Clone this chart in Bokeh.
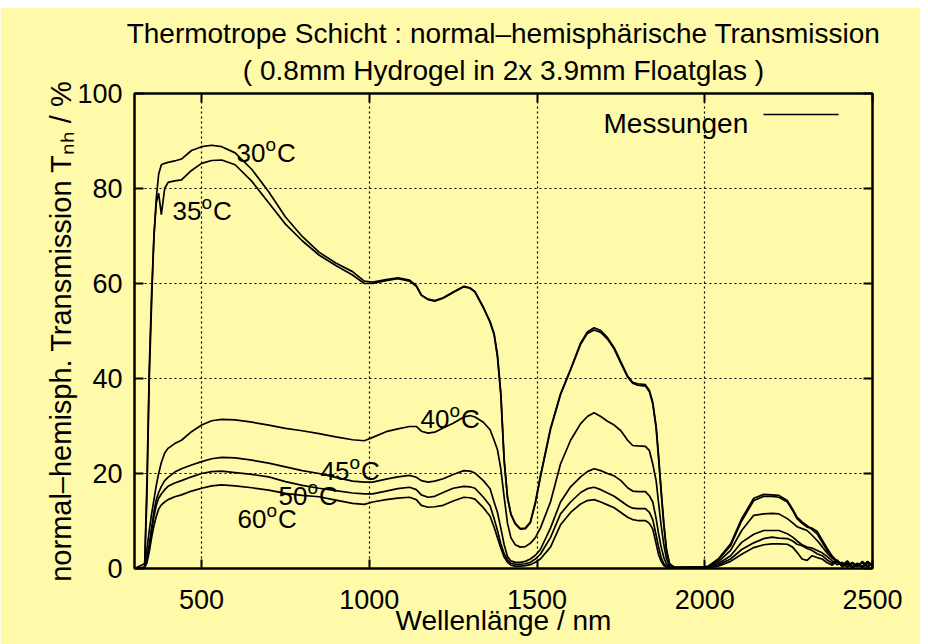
from bokeh.plotting import figure
from bokeh.models import Range1d, Label, LinearAxis, FixedTicker, CustomJSTickFormatter, Title
from bokeh.embed import file_html
from bokeh.resources import INLINE

# ---------------- data ----------------
wavelength = [
    300, 330, 337, 344, 351, 358, 365, 372, 380, 390,
    400, 420, 440, 470, 500, 530, 560, 600, 650, 700,
    750, 800, 850, 900, 950, 985, 1010, 1050, 1085, 1120,
    1140, 1155, 1175, 1195, 1220, 1250, 1282, 1300, 1315, 1340,
    1360, 1372, 1382, 1392, 1402, 1412, 1422, 1435, 1450, 1465,
    1480, 1495, 1510, 1540, 1570, 1600, 1630, 1650, 1670, 1690,
    1710, 1730, 1750, 1770, 1785, 1800, 1823, 1835, 1845, 1855,
    1862, 1870, 1878, 1886, 1895, 1910, 1950, 1990, 2010, 2040,
    2077, 2110, 2146, 2176, 2200, 2221, 2246, 2262, 2275, 2290,
    2305, 2320, 2335, 2350, 2365, 2380, 2395, 2410, 2425, 2440,
    2455, 2470, 2485, 2500]

t30 = [
    0, 0, 18, 42, 58, 70, 78, 83, 85, 85.3,
    85.5, 85.8, 86.2, 88.0, 88.8, 89.1, 88.8, 87.5, 84.0, 79.3,
    74.0, 69.9, 66.6, 64.3, 62.5, 60.5, 60.3, 60.8, 61.2, 60.7,
    59.6, 57.6, 56.7, 56.4, 57.0, 58.2, 59.4, 59.1, 58.3, 55.0,
    52.0, 49.5, 45.0, 37.0, 23.0, 15.0, 11.5, 9.5, 8.4, 8.5,
    9.8, 14.0, 19.5, 29.5, 36.8, 42.0, 47.5, 49.8, 50.7, 50.1,
    48.6, 46.5, 43.5, 40.5, 39.2, 38.9, 38.7, 37.5, 35.0, 30.0,
    24.0, 16.5, 9.5, 4.0, 1.0, 0.2, 0.3, 0.3, 0.5, 2.0,
    5.2, 10.5, 14.8, 15.6, 15.5, 15.4, 14.3, 12.5, 10.8, 9.8,
    9.0, 8.2, 7.3, 5.5, 3.8, 2.3, 1.3, 0.6, 1.2, 0.3,
    1.0, 0.4, 1.5, 0.6]

t35 = [
    0, 0, 15, 40, 56, 70, 77, 79, 74.5, 80,
    81.3, 81.6, 81.8, 83.8, 85.3, 85.9, 86.0, 85.0, 81.5, 77.0,
    72.5, 69.0, 66.0, 63.8, 61.8, 60.0, 60.0, 60.6, 61.0, 60.5,
    59.4, 57.5, 56.6, 56.3, 56.9, 58.1, 59.3, 59.0, 58.2, 54.9,
    51.8, 49.2, 44.5, 36.5, 22.5, 14.8, 11.4, 9.4, 8.3, 8.4,
    9.6, 13.7, 19.2, 29.2, 36.6, 41.8, 47.2, 49.5, 50.2, 49.7,
    48.3, 46.2, 43.2, 40.3, 39.0, 38.6, 38.4, 37.2, 34.6, 29.5,
    23.5, 16.0, 9.0, 3.6, 0.9, 0.2, 0.2, 0.3, 0.4, 1.8,
    4.8, 10.0, 14.3, 15.2, 15.2, 15.0, 14.0, 12.2, 10.5, 9.5,
    8.7, 8.5, 7.8, 6.0, 4.2, 2.6, 1.5, 1.0, 0.4, 1.3,
    0.5, 1.2, 0.3, 0.9]

t40 = [
    0, 1.0, 4.0, 8.0, 11.5, 14.5, 17.5, 20.0, 22.3, 24.3,
    25.3, 26.3, 27.0, 28.8, 30.2, 31.1, 31.4, 31.3, 30.8, 30.2,
    29.5, 29.0, 28.4, 27.7, 27.1, 26.9, 27.6, 28.8, 29.4, 29.9,
    29.9, 28.9, 28.5, 28.7, 29.6, 30.6, 31.9, 32.2, 31.9, 30.8,
    29.2, 27.0, 25.0, 21.0, 15.0, 9.5, 6.5, 5.0, 4.5, 4.6,
    5.3, 6.5, 8.5, 14.0, 22.0, 27.0, 30.5, 32.0, 32.8, 32.0,
    31.0, 30.2, 29.0, 27.0, 25.9, 25.8, 25.7, 24.8, 22.0, 18.5,
    14.0, 9.0, 5.0, 2.0, 0.5, 0.2, 0.2, 0.3, 0.4, 1.4,
    3.8, 8.0, 11.2, 11.5, 11.6, 11.5, 10.5, 9.6, 8.8, 8.4,
    8.0, 7.0, 5.9, 4.6, 3.2, 2.2, 1.4, 0.7, 1.6, 0.4,
    1.1, 0.3, 1.4, 0.8]

t45 = [
    0, 0.3, 2.0, 5.0, 8.5, 12.0, 14.5, 16.0, 17.3, 18.5,
    19.2, 20.3, 21.0, 21.8, 22.5, 23.1, 23.4, 23.3, 22.8, 22.2,
    21.4, 20.6, 20.0, 19.2, 18.4, 18.2, 18.2, 18.8, 19.3, 19.6,
    19.2, 18.5, 18.2, 18.4, 18.9, 19.8, 20.6, 20.5, 20.1, 18.5,
    16.8, 14.0, 11.8, 8.5, 5.0, 2.5, 1.6, 1.3, 1.3, 1.5,
    2.0, 2.8, 4.0, 8.5, 14.0, 17.2, 19.3, 20.4, 21.0, 20.6,
    20.0, 19.5, 18.5, 17.0, 16.3, 16.2, 16.2, 15.3, 14.0, 10.5,
    7.5, 4.5, 2.3, 0.9, 0.3, 0.2, 0.2, 0.3, 0.3, 1.0,
    2.7, 5.5, 7.2, 8.0, 8.0, 8.0, 7.3, 6.6, 5.8, 5.0,
    4.5, 4.3, 3.8, 3.3, 2.5, 1.6, 0.8, 1.3, 0.3, 1.1,
    0.4, 1.5, 0.5, 1.0]

t50 = [
    0, 0.2, 1.8, 4.5, 8.0, 11.0, 13.3, 14.8, 15.7, 16.6,
    17.3, 18.0, 18.5, 19.3, 20.0, 20.4, 20.5, 20.2, 19.8, 19.3,
    18.3, 17.5, 16.9, 16.4, 15.9, 15.7, 15.7, 16.3, 16.8, 17.1,
    16.6, 15.5, 15.0, 15.2, 16.0, 16.9, 17.3, 17.2, 16.9, 15.0,
    13.2, 10.5, 8.0, 5.2, 3.1, 1.8, 1.1, 0.9, 0.9, 1.0,
    1.3, 2.0, 3.0, 6.5, 11.5, 14.0, 16.0, 16.8, 17.1, 16.6,
    15.9, 15.2, 14.2, 13.2, 12.7, 12.6, 12.6, 11.8, 10.3, 7.0,
    4.6, 2.3, 1.0, 0.4, 0.2, 0.2, 0.2, 0.3, 0.3, 0.8,
    2.0, 4.0, 5.4, 6.3, 6.6, 6.4, 6.3, 5.8, 5.1, 4.8,
    4.2, 3.8, 3.1, 2.7, 1.8, 1.1, 1.8, 0.4, 1.2, 0.3,
    0.9, 0.3, 1.3, 0.6]

t60 = [
    0, 0.1, 1.2, 3.5, 6.5, 9.0, 11.0, 12.5, 13.4, 14.0,
    14.5, 15.1, 15.5, 16.3, 16.9, 17.4, 17.6, 17.4, 17.0, 16.5,
    15.8, 15.4, 15.1, 14.4, 13.7, 13.5, 14.0, 14.5, 14.8, 15.0,
    14.5, 13.3, 12.9, 13.0, 13.3, 14.2, 15.0, 14.9, 14.6, 12.8,
    11.0, 8.7, 6.5, 4.3, 2.4, 1.3, 0.7, 0.5, 0.5, 0.6,
    0.8, 1.3, 2.0, 4.5, 9.2, 11.8, 13.6, 14.3, 14.5, 14.0,
    13.4, 12.8, 11.8, 10.8, 10.3, 10.1, 10.1, 9.5, 8.3, 5.2,
    3.0, 1.5, 0.6, 0.3, 0.2, 0.2, 0.2, 0.2, 0.2, 0.5,
    1.5, 3.0, 4.4, 5.0, 5.2, 5.2, 5.1, 4.5, 3.4, 2.0,
    1.7, 2.7, 2.3, 2.0, 1.2, 0.7, 1.6, 0.3, 1.0, 0.2,
    0.8, 0.2, 1.1, 0.5]

series = [t30, t35, t40, t45, t50, t60]

x_ticks = [500, 1000, 1500, 2000, 2500]
y_ticks = [0, 20, 40, 60, 80, 100]

# curve labels: (temperature, left edge px, baseline px)
curve_labels = [("30", 236, 152), ("35", 172, 210), ("40", 420, 418),
                ("45", 320, 470), ("50", 278, 495), ("60", 237, 518)]

title_lines = ["Thermotrope Schicht : normal\u2013hemisph\u00e4rische Transmission",
               "( 0.8mm Hydrogel in 2x 3.9mm Floatglas )"]
x_label = "Wellenl\u00e4nge / nm"
y_label = "normal\u2013hemisph. Transmission T\u2099\u2095 / %"
legend_label = "Messungen"

# ---------------- layout ----------------
FONT = "Liberation Sans"
BG = "#FFF9AA"
X0, X1 = 300, 2500
Y0, Y1 = 0, 100
TOP_GAP = 7                       # white strip above the chart
# page pixel positions of the frame
FL, FR, FT, FB = 134, 872, 93, 568


def px2x(px):
    return X0 + (px - FL) * (X1 - X0) / (FR - FL)


def px2y(py):
    return Y0 + (FB - py) * (Y1 - Y0) / (FB - FT)


W, H = 920, 644 - TOP_GAP
p = figure(width=W, height=H, output_backend="svg", toolbar_location=None,
           x_range=Range1d(X0, X1), y_range=Range1d(Y0, Y1),
           min_border_left=FL, min_border_right=W - FR,
           min_border_top=FT - TOP_GAP, min_border_bottom=H - (FB - TOP_GAP),
           background_fill_color=BG, border_fill_color=BG,
           outline_line_color="black", outline_line_width=2)
p.margin = (TOP_GAP, 0, 0, 0)

bottom_axis = p.below[0]
left_axis = p.left[0]
blank = CustomJSTickFormatter(code="return ''")
top_axis = LinearAxis(formatter=blank)
right_axis = LinearAxis(formatter=blank)
p.add_layout(top_axis, "above")
p.add_layout(right_axis, "right")

for ax in (bottom_axis, top_axis):
    ax.ticker = FixedTicker(ticks=x_ticks)
for ax in (left_axis, right_axis):
    ax.ticker = FixedTicker(ticks=y_ticks)
for ax in (bottom_axis, top_axis, left_axis, right_axis):
    ax.axis_line_color = "black"
    ax.axis_line_width = 2
    ax.major_tick_in = 9
    ax.major_tick_out = 0
    ax.major_tick_line_width = 2
    ax.major_tick_line_color = "black"
    ax.minor_tick_line_color = None
    ax.major_label_text_font = FONT
    ax.major_label_text_font_size = "27px"
    ax.major_label_text_color = "black"
for ax in (top_axis, right_axis):
    ax.major_label_text_font_size = "1px"
    ax.major_label_standoff = 0

bottom_axis.major_label_standoff = 21
bottom_axis.axis_label = x_label
bottom_axis.axis_label_text_font = FONT
bottom_axis.axis_label_text_font_size = "28px"
bottom_axis.axis_label_text_font_style = "normal"
bottom_axis.axis_label_text_color = "black"
bottom_axis.axis_label_standoff = -7

left_axis.major_label_standoff = 12
left_axis.axis_label = y_label
left_axis.axis_label_text_font = FONT
left_axis.axis_label_text_font_size = "29px"
left_axis.axis_label_text_font_style = "normal"
left_axis.axis_label_text_color = "black"
left_axis.axis_label_standoff = -3

p.xgrid.ticker = FixedTicker(ticks=x_ticks)
p.ygrid.ticker = FixedTicker(ticks=y_ticks)
for g in (p.xgrid, p.ygrid):
    g.grid_line_color = "black"
    g.grid_line_dash = "2 3"
    g.grid_line_width = 1.2

for t in series:
    p.line(wavelength, t, line_color="black", line_width=1.7)

# two-line title (second line nearest the frame)
for i, line in enumerate(reversed(title_lines)):
    p.add_layout(Title(text=line, align="center", text_font=FONT,
                       text_font_size="28px", text_font_style="normal",
                       text_color="black", standoff=15 if i == 0 else -6), "above")


def add_text(text, px, py, size, align="left"):
    p.add_layout(Label(x=px2x(px), y=px2y(py), text=text, text_font=FONT,
                       text_font_size=f"{size}px", text_color="black",
                       text_align=align, text_baseline="alphabetic"))


# curve labels  NN ^o C
LS = 26
for num, lx, by in curve_labels:
    w_num = len(num) * 0.556 * LS
    add_text(num, lx, by, LS)
    add_text("o", lx + w_num, by - 8, 19)
    add_text("C", lx + w_num + 0.556 * 19 + 1, by, LS)

# legend
add_text(legend_label, 603, 123, 28)
p.line([px2x(763), px2x(838)], [px2y(114), px2y(114)], line_color="black", line_width=1.7)

open("out.html", "w").write(file_html(p, INLINE))
